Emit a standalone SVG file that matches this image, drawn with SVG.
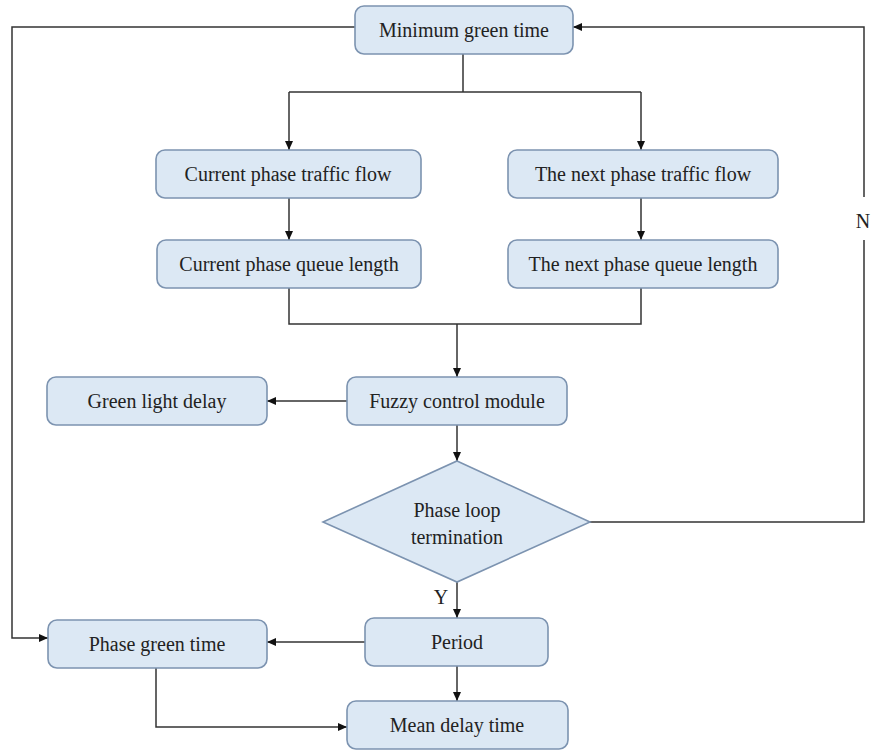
<svg xmlns="http://www.w3.org/2000/svg" width="871" height="751" viewBox="0 0 871 751">
<style>
.box{fill:#dce8f4;stroke:#7c93b0;stroke-width:1.6}
.t{font-family:"Liberation Serif","Times New Roman",serif;font-size:20px;fill:#222;text-anchor:middle;dominant-baseline:central}
.c{fill:none;stroke:#333;stroke-width:1.5}
</style>
<defs>
<marker id="ah" markerWidth="10" markerHeight="10" refX="9" refY="5" orient="auto" markerUnits="userSpaceOnUse">
<path d="M0,1 L9,5 L0,9 Z" fill="#111"/>
</marker>
</defs>
<rect width="871" height="751" fill="#fff"/>
<g id="connectors">
<path class="c" d="M463,54 V92"/>
<path class="c" d="M289,92 H641"/>
<path class="c" d="M289,92 V150" marker-end="url(#ah)"/>
<path class="c" d="M641,92 V150" marker-end="url(#ah)"/>
<path class="c" d="M289,198 V240" marker-end="url(#ah)"/>
<path class="c" d="M641,198 V240" marker-end="url(#ah)"/>
<path class="c" d="M289,288 V324 H641 V288"/>
<path class="c" d="M457,324 V377" marker-end="url(#ah)"/>
<path class="c" d="M347,401 H267" marker-end="url(#ah)"/>
<path class="c" d="M457,425 V461" marker-end="url(#ah)"/>
<path class="c" d="M457,582 V618" marker-end="url(#ah)"/>
<path class="c" d="M365,642 H267" marker-end="url(#ah)"/>
<path class="c" d="M457,666 V701" marker-end="url(#ah)"/>
<path class="c" d="M156,668 V727 H347" marker-end="url(#ah)"/>
<path class="c" d="M355,27 H12 V638 H48" marker-end="url(#ah)"/>
<path class="c" d="M590,522 H864 V240"/>
<path class="c" d="M864,197 V27 H573" marker-end="url(#ah)"/>
<text class="t" x="863" y="221">N</text>
<text class="t" x="441" y="597">Y</text>
</g>
<g id="n-min"><rect class="box" x="355" y="6" width="218" height="48" rx="9"/><text class="t" x="464" y="30">Minimum green time</text></g>
<g id="n-cur-flow"><rect class="box" x="156" y="150" width="265" height="48" rx="9"/><text class="t" x="288" y="174">Current phase traffic flow</text></g>
<g id="n-next-flow"><rect class="box" x="508" y="150" width="270" height="48" rx="9"/><text class="t" x="643" y="174">The next phase traffic flow</text></g>
<g id="n-cur-queue"><rect class="box" x="157" y="240" width="264" height="48" rx="9"/><text class="t" x="289" y="264">Current phase queue length</text></g>
<g id="n-next-queue"><rect class="box" x="508" y="240" width="270" height="48" rx="9"/><text class="t" x="643" y="264">The next phase queue length</text></g>
<g id="n-fuzzy"><rect class="box" x="347" y="377" width="220" height="48" rx="9"/><text class="t" x="457" y="401">Fuzzy control module</text></g>
<g id="n-green-delay"><rect class="box" x="47" y="377" width="220" height="48" rx="9"/><text class="t" x="157" y="401">Green light delay</text></g>
<g id="n-loop"><path class="box" d="M457,461 L590,522 L457,582 L323,522 Z"/><text class="t" x="457" y="510">Phase loop</text><text class="t" x="457" y="537">termination</text></g>
<g id="n-period"><rect class="box" x="365" y="618" width="183" height="48" rx="9"/><text class="t" x="457" y="642">Period</text></g>
<g id="n-phase-green"><rect class="box" x="48" y="620" width="219" height="48" rx="9"/><text class="t" x="157" y="644">Phase green time</text></g>
<g id="n-mean"><rect class="box" x="347" y="701" width="221" height="48" rx="9"/><text class="t" x="457" y="725">Mean delay time</text></g>
</svg>
